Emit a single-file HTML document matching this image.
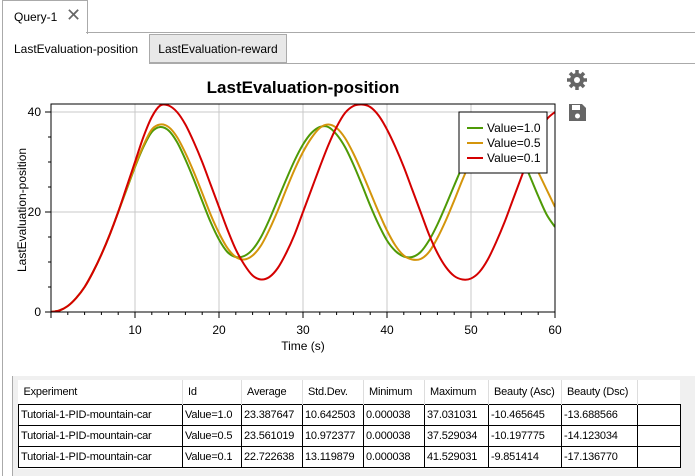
<!DOCTYPE html>
<html><head><meta charset="utf-8"><style>
body{margin:0;width:695px;height:476px;overflow:hidden;background:#fff;font-family:"Liberation Sans",sans-serif;position:relative}
.abs{position:absolute}
table{border-collapse:collapse;font-size:11px;table-layout:fixed;width:662px;letter-spacing:-0.2px}
td{border:1px solid #000;padding:0 2px;height:20px;white-space:nowrap;overflow:hidden}
th{font-weight:normal;text-align:left;border-right:1px solid #ddd;padding:0 5px;height:24px;white-space:nowrap;overflow:hidden}
</style></head><body>
<div class="abs" style="left:2px;top:0;width:84px;height:33px;border:1px solid #aaa;border-bottom:none;background:#fff;font-size:12px">
<span style="position:absolute;left:11px;top:9px">Query-1</span><span style="position:absolute;left:63px;top:4px;font-size:18px;color:#666">✕</span></div>
<div class="abs" style="left:86px;top:32px;width:609px;border-top:1px solid #aaa"></div>
<div class="abs" style="left:2px;top:33px;height:443px;border-left:1px solid #aaa"></div>
<div class="abs" style="left:14px;top:42px;font-size:12px">LastEvaluation-position</div>
<div class="abs" style="left:149px;top:34px;width:138px;height:29px;border:1px solid #aaa;background:#e8e8e8;font-size:12px;box-sizing:border-box;text-align:center;line-height:28px">LastEvaluation-reward</div>
<div class="abs" style="left:287px;top:63px;width:408px;border-top:1px solid #aaa"></div>
<div class="abs" style="left:149px;top:63px;width:138px;border-top:1px solid #aaa"></div>
<svg class="abs" style="left:0;top:0" width="695" height="376" id="chart">
<text x="303" y="93" text-anchor="middle" font-size="17" font-weight="bold" font-family="Liberation Sans,sans-serif">LastEvaluation-position</text>
<g transform="translate(577,80)" fill="#666"><circle r="7"/><g stroke="#666" stroke-width="3.5"><line x1="-10" y1="0" x2="10" y2="0"/><line x1="0" y1="-10" x2="0" y2="10"/><line x1="-7" y1="-7" x2="7" y2="7"/><line x1="-7" y1="7" x2="7" y2="-7"/></g><circle r="3" fill="#fff"/></g>
<g fill="#666"><path d="M569 104h13l4 4v13h-17z"/><rect x="572" y="105" width="8" height="5" fill="#fff"/><circle cx="577.5" cy="116" r="2.5" fill="#fff"/></g>
<text transform="translate(26,210) rotate(-90)" text-anchor="middle" font-size="12" font-family="Liberation Sans,sans-serif">LastEvaluation-position</text>
<text x="303" y="350" text-anchor="middle" font-size="12" font-family="Liberation Sans,sans-serif">Time (s)</text>
</svg>
<div class="abs" style="left:12px;top:376px;width:683px;height:100px;background:#f0f0f0;border-left:1px solid #aaa"></div>
<div class="abs" style="left:18px;top:380px;width:662px;height:89px;background:#fff"></div>
<table class="abs" style="left:18px;top:380px">
<colgroup><col style="width:164px"><col style="width:59px"><col style="width:61px"><col style="width:61px"><col style="width:61px"><col style="width:64px"><col style="width:73px"><col style="width:76px"><col style="width:43px"></colgroup>
<tr><th>Experiment</th><th>Id</th><th>Average</th><th>Std.Dev.</th><th>Minimum</th><th>Maximum</th><th>Beauty (Asc)</th><th>Beauty (Dsc)</th><th style="border:none"></th></tr>
<tr><td>Tutorial-1-PID-mountain-car</td><td>Value=1.0</td><td>23.387647</td><td>10.642503</td><td>0.000038</td><td>37.031031</td><td>-10.465645</td><td>-13.688566</td><td></td></tr>
<tr><td>Tutorial-1-PID-mountain-car</td><td>Value=0.5</td><td>23.561019</td><td>10.972377</td><td>0.000038</td><td>37.529034</td><td>-10.197775</td><td>-14.123034</td><td></td></tr>
<tr><td>Tutorial-1-PID-mountain-car</td><td>Value=0.1</td><td>22.722638</td><td>13.119879</td><td>0.000038</td><td>41.529031</td><td>-9.851414</td><td>-17.136770</td><td></td></tr>
</table>
<script>
const seriesNames=["Value=1.0","Value=0.5","Value=0.1"];
const seriesColors=["#4e9a06","#d4950b","#d40000"];
const xTicks=[10,20,30,40,50,60];
const yTicks=[0,20,40];
const green=[0,0.3,1.2,2.8,5,8,11.5,15.5,20,24.5,29,33,36,37,36.3,34,30.5,26.5,22.2,18,14.5,12,11,11.2,12.5,15,18.5,22.5,26.5,30.3,33.5,35.8,37,37,35.5,33,29.5,25.5,21.3,17.5,14.3,12.2,11.1,11,12,14.3,17.5,21.3,25.3,29.2,32.5,35,36.6,37,36.2,34,31,27.2,23.2,19.5,17];
const orange=[0,0.3,1.2,2.8,5,8,11.5,15.5,20,24.7,29.2,33.3,36.5,37.5,37,35,31.8,28,23.8,19.5,15.8,12.8,11,10.5,11.3,13.3,16.5,20.3,24.5,28.5,32,34.8,36.8,37.5,36.8,34.8,31.7,28,24,20,16.3,13.3,11.3,10.5,10.6,12,14.8,18.3,22.3,26.5,30.3,33.5,35.8,37.2,37.5,36.6,34.5,31.5,28,24.5,21];
const red=[0,0.3,1.2,2.8,5,8,11.5,15.5,20,25,30,35,39,41.3,41.3,40,37.5,34,30,25.5,21,16.5,12.5,9.5,7.3,6.5,7,8.8,11.8,15.5,20,24.5,29,33.3,37,39.8,41.2,41.5,41,39.3,36.5,33,29,24.5,20,15.5,11.8,9,7.2,6.5,6.7,8,10.5,14,18,22.5,27,31.5,35.5,38.5,40];
const series=[green,orange,red];
const NS="http://www.w3.org/2000/svg";
const svg=document.getElementById("chart");
const L=51,R=555,T=104,B=312,XMAX=60,YMAX=41.6;
const xs=v=>L+v/XMAX*(R-L), ys=v=>B-v/YMAX*(B-T);
function mk(t,a,p){const e=document.createElementNS(NS,t);for(const k in a)e.setAttribute(k,a[k]);(p||svg).appendChild(e);return e;}
const grid=mk("g",{stroke:"#c8c8c8","stroke-width":1});


xTicks.forEach(t=>mk("line",{x1:xs(t),x2:xs(t),y1:T,y2:B},grid));
yTicks.forEach(t=>mk("line",{x1:L,x2:R,y1:ys(t),y2:ys(t)},grid));
const clip=mk("clipPath",{id:"cp"});mk("rect",{x:L,y:T,width:R-L,height:B-T},clip);
const lines=mk("g",{"clip-path":"url(#cp)"});
series.forEach((d,i)=>{
 const pts=d.map((v,j)=>[xs(j*XMAX/(d.length-1)),ys(v)]);
 let p="M"+pts[0][0]+","+pts[0][1];
 for(let j=0;j<pts.length-1;j++){const p0=pts[Math.max(0,j-1)],p1=pts[j],p2=pts[j+1],p3=pts[Math.min(pts.length-1,j+2)];
  p+=" C"+(p1[0]+(p2[0]-p0[0])/6)+","+(p1[1]+(p2[1]-p0[1])/6)+" "+(p2[0]-(p3[0]-p1[0])/6)+","+(p2[1]-(p3[1]-p1[1])/6)+" "+p2[0]+","+p2[1];}
 const e=mk("path",{d:p,fill:"none",stroke:seriesColors[i],"stroke-width":2},lines);
 
 
});
mk("rect",{x:L,y:T,width:R-L,height:B-T,fill:"none",stroke:"#000","stroke-width":1});
const ax=mk("g",{stroke:"#000","stroke-width":1});
for(let t=0;t<=XMAX;t+=2)mk("line",{x1:xs(t),x2:xs(t),y1:B,y2:B+(t%10==0?6:3)},ax);
for(let t=0;t<=40;t+=5)mk("line",{x1:L,x2:L-(t%20==0?6:3),y1:ys(t),y2:ys(t)},ax);
xTicks.forEach(t=>{const e=mk("text",{x:xs(t),y:334,"text-anchor":"middle","font-size":12,"font-family":"Liberation Sans,sans-serif"});e.textContent=t;
 
 });
yTicks.forEach(t=>{const e=mk("text",{x:41,y:ys(t)+4,"text-anchor":"end","font-size":12,"font-family":"Liberation Sans,sans-serif"});e.textContent=t;
 
 });
const lg=mk("g",{});


mk("rect",{x:459,y:112,width:88,height:61,fill:"#fff",stroke:"#000"},lg);
seriesNames.forEach((n,i)=>{const y=128+i*15;
 const g=mk("g",{},lg);
 
 
 mk("line",{x1:467,x2:483,y1:y,y2:y,stroke:seriesColors[i],"stroke-width":2},g);
 const t=mk("text",{x:487,y:y+4,"font-size":12,"font-family":"Liberation Sans,sans-serif"},g);t.textContent=n;});
</script>
</body></html>
